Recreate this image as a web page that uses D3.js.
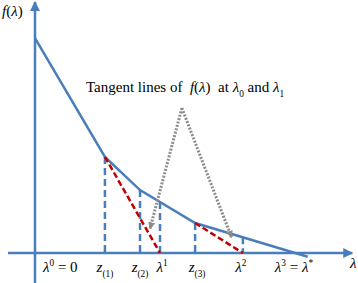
<!DOCTYPE html>
<html>
  <head>
    <title>Tangent lines</title>
    <script src="https://d3js.org/d3.v7.min.js"></script>
    <style>
      body { margin: 0; background: white; }
      text { font-family: "Liberation Serif", "Times New Roman", serif; font-size: 15px; fill: black; white-space: pre; }
    </style>
  </head>
  <body>
    <script>
        let width = 358, height = 283;

        // piecewise linear f(lambda), breakpoints at 0, z(1), z(2), z(3), end
        let curveX = [0, 2.59, 3.89, 5.93, 10.1];
        let curveY = [7.96, 3.56, 2.33, 1.11, -0.14];

        // vertical dashed guides: z(1), z(2), lambda1, z(3), lambda2
        let dropX = [2.59, 3.89, 4.63, 5.93, 7.7];

        // red tangent segments [x1, y1, x2, y2]
        let tangents = [[2.59, 3.56, 4.63, 0], [5.93, 1.11, 7.7, 0]];

        // grey dotted pointer: left end, peak, right end
        let pointerX = [4.26, 5.44, 7.28];
        let pointerY = [0.9, 5.37, 0.58];

        // tick positions and labels
        let tickX = [0, 2.59, 3.89, 4.63, 5.93, 7.7, 10];
        let tickLabels = [
            [["λ", "i"], ["0", "sup"], [" = 0", ""]],
            [["z", "i"], ["(1)", "sub"]],
            [["z", "i"], ["(2)", "sub"]],
            [["λ", "i"], ["1", "sup"]],
            [["z", "i"], ["(3)", "sub"]],
            [["λ", "i"], ["2", "sup"]],
            [["λ", "i"], ["3", "sup"], [" = ", ""], ["λ", "i"], ["*", "sup"]]
        ];

        let x = d3.scaleLinear().domain([0, 10]).range([35, 305]);
        let y = d3.scaleLinear().domain([0, 8]).range([253, 37]);

        let blue = "#4a7ebb", red = "#c00000", grey = "#8c8c8c";

        let svg = d3.select("body").append("svg")
                    .attr("width", width).attr("height", height);

        let defs = svg.append("defs");
        defs.append("marker").attr("id", "blueArrow")
            .attr("viewBox", "0 0 10 10").attr("refX", 9).attr("refY", 5)
            .attr("markerWidth", 4).attr("markerHeight", 4)
            .attr("orient", "auto")
            .append("path").attr("d", "M0,0 L10,5 L0,10 Z").attr("fill", blue);
        defs.append("marker").attr("id", "greyArrow")
            .attr("viewBox", "0 0 10 10").attr("refX", 9).attr("refY", 5)
            .attr("markerWidth", 2.4).attr("markerHeight", 2.4)
            .attr("orient", "auto")
            .append("path").attr("d", "M0,0 L10,5 L0,10 Z").attr("fill", grey);

        // axes
        svg.append("line")
            .attr("x1", x(-1)).attr("y1", y(0)).attr("x2", x(11.75)).attr("y2", y(0))
            .attr("stroke", blue).attr("stroke-width", 2.5)
            .attr("marker-end", "url(#blueArrow)");
        svg.append("line")
            .attr("x1", x(0)).attr("y1", y(-1.11)).attr("x2", x(0)).attr("y2", y(9.3))
            .attr("stroke", blue).attr("stroke-width", 2.5)
            .attr("marker-end", "url(#blueArrow)");

        let f = function(v) {
            let i = d3.bisectRight(curveX, v) - 1;
            i = Math.max(0, Math.min(i, curveX.length - 2));
            let t = (v - curveX[i]) / (curveX[i + 1] - curveX[i]);
            return curveY[i] + t * (curveY[i + 1] - curveY[i]);
        };

        // vertical dashed guides
        svg.selectAll("line.drop").data(dropX).enter().append("line")
            .attr("class", "drop")
            .attr("x1", d => x(d)).attr("x2", d => x(d))
            .attr("y1", d => y(f(d))).attr("y2", y(0))
            .attr("stroke", blue).attr("stroke-width", 2.5)
            .attr("stroke-dasharray", "7,4");

        // curve
        let line = d3.line().x(d => x(d[0])).y(d => y(d[1]));
        svg.append("path")
            .attr("d", line(d3.zip(curveX, curveY)))
            .attr("fill", "none").attr("stroke", blue).attr("stroke-width", 2.5);

        // tangents
        svg.selectAll("line.tan").data(tangents).enter().append("line")
            .attr("class", "tan")
            .attr("x1", d => x(d[0])).attr("y1", d => y(d[1]))
            .attr("x2", d => x(d[2])).attr("y2", d => y(d[3]))
            .attr("stroke", red).attr("stroke-width", 2.5)
            .attr("stroke-dasharray", "6,3");

        // grey dotted pointers
        [0, 2].forEach(function(k) {
            svg.append("line")
                .attr("x1", x(pointerX[1])).attr("y1", y(pointerY[1]))
                .attr("x2", x(pointerX[k])).attr("y2", y(pointerY[k]))
                .attr("stroke", grey).attr("stroke-width", 3)
                .attr("stroke-dasharray", "2,1.5")
                .attr("marker-end", "url(#greyArrow)");
        });

        // rich text helper
        let rich = function(sel, parts, size) {
            let shift = 0;
            parts.forEach(function(p) {
                let ts = sel.append("tspan").text(p[0]);
                let target = 0;
                if (p[1] == "sup") target = -0.4 * size;
                if (p[1] == "sub") target = 0.3 * size;
                ts.attr("dy", target - shift);
                shift = target;
                if (p[1] == "i") ts.style("font-style", "italic");
                if (p[1] == "sup" || p[1] == "sub") ts.style("font-size", (size * 0.62) + "px");
            });
        };

        // tick labels
        let anchors = ["start", "middle", "middle", "middle", "middle", "middle", "middle"];
        let offsets = [8, 0, 0, 2, 2, -2, -11];
        svg.selectAll("text.tick").data(tickX).enter().append("text")
            .attr("class", "tick")
            .attr("x", (d, i) => x(d) + offsets[i]).attr("y", 272)
            .attr("text-anchor", (d, i) => anchors[i])
            .each(function(d, i) { rich(d3.select(this), tickLabels[i], 15); });

        // axis titles
        svg.append("text").attr("x", 350).attr("y", 268)
            .style("font-style", "italic").text("λ");
        rich(svg.append("text").attr("x", 2).attr("y", 16),
             [["f", "i"], ["(", ""], ["λ", "i"], [")", ""]], 15);

        // annotation
        rich(svg.append("text").attr("x", 86).attr("y", 92),
             [["Tangent lines of  ", ""], ["f", "i"], ["(", ""], ["λ", "i"], [")", ""],
              ["  at ", ""], ["λ", "i"], ["0", "sub"], [" and ", ""], ["λ", "i"], ["1", "sub"]], 15);
    </script>
  </body>
</html>
